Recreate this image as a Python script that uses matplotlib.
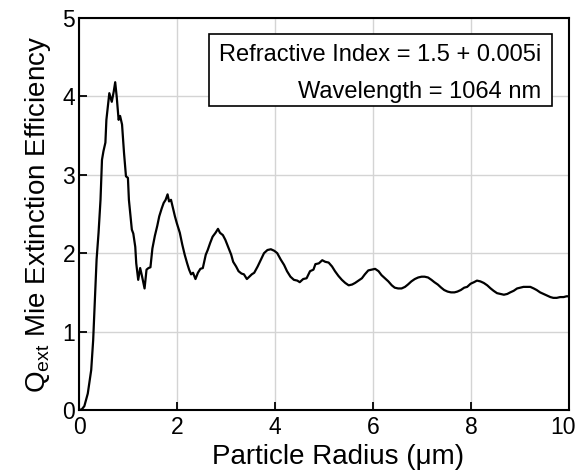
import matplotlib
matplotlib.use("Agg")
import matplotlib.pyplot as plt
import matplotlib.transforms as mtransforms
from matplotlib.patches import Rectangle

plt.rcParams['font.family'] = ['Liberation Sans', 'DejaVu Sans']
plt.rcParams['mathtext.fontset'] = 'custom'
plt.rcParams['mathtext.rm'] = 'Liberation Sans'
plt.rcParams['mathtext.it'] = 'Liberation Sans:italic'

# Mie extinction efficiency
radius_um = [0.00, 0.05, 0.10, 0.17, 0.24, 0.28, 0.32, 0.35, 0.39, 0.43,
             0.46, 0.49, 0.53, 0.55, 0.61, 0.66, 0.70, 0.73, 0.76, 0.80,
             0.83, 0.87, 0.91, 0.95, 0.99, 1.01, 1.07, 1.10, 1.14, 1.16,
             1.20, 1.24, 1.28, 1.33, 1.37, 1.41, 1.45, 1.49, 1.54, 1.59,
             1.63, 1.68, 1.72, 1.76, 1.80, 1.83, 1.87, 1.90, 1.95, 1.99,
             2.05, 2.10, 2.15, 2.20, 2.24, 2.28, 2.32, 2.37, 2.42, 2.47,
             2.52, 2.58, 2.62, 2.67, 2.72, 2.78, 2.83, 2.87, 2.93, 2.98,
             3.03, 3.10, 3.14, 3.20, 3.25, 3.31, 3.36, 3.42, 3.47, 3.52,
             3.57, 3.64, 3.71, 3.77, 3.84, 3.91, 3.98, 4.04, 4.11, 4.18,
             4.24, 4.31, 4.38, 4.45, 4.50, 4.57, 4.64, 4.71, 4.78, 4.82,
             4.89, 4.96, 5.02, 5.09, 5.16, 5.22, 5.29, 5.36, 5.43, 5.50,
             5.57, 5.63, 5.70, 5.77, 5.83, 5.90, 5.97, 6.04, 6.11, 6.17,
             6.24, 6.31, 6.38, 6.44, 6.51, 6.58, 6.65, 6.71, 6.78, 6.85,
             6.92, 6.99, 7.05, 7.12, 7.19, 7.25, 7.32, 7.39, 7.45, 7.52,
             7.59, 7.66, 7.72, 7.79, 7.86, 7.92, 7.99, 8.06, 8.12, 8.19,
             8.26, 8.33, 8.40, 8.46, 8.53, 8.60, 8.67, 8.74, 8.80, 8.87,
             8.94, 9.01, 9.07, 9.14, 9.21, 9.28, 9.34, 9.41, 9.48, 9.55,
             9.62, 9.68, 9.75, 9.82, 9.89, 9.95, 10.00]
q_ext = [0.00, 0.01, 0.05, 0.21, 0.51, 0.89, 1.49, 1.92, 2.26, 2.68,
         3.19, 3.30, 3.41, 3.70, 4.04, 3.93, 4.06, 4.18, 4.00, 3.70,
         3.75, 3.64, 3.28, 2.98, 2.96, 2.68, 2.30, 2.25, 2.08, 1.87,
         1.66, 1.81, 1.70, 1.55, 1.79, 1.81, 1.82, 2.06, 2.22, 2.35,
         2.47, 2.57, 2.64, 2.68, 2.75, 2.66, 2.68, 2.60, 2.47, 2.38,
         2.26, 2.11, 1.98, 1.87, 1.79, 1.73, 1.75, 1.67, 1.75, 1.80,
         1.81, 1.98, 2.04, 2.13, 2.21, 2.26, 2.31, 2.26, 2.23, 2.17,
         2.09, 1.98, 1.89, 1.83, 1.77, 1.74, 1.73, 1.67, 1.70, 1.73,
         1.75, 1.83, 1.92, 2.00, 2.04, 2.05, 2.03, 2.00, 1.92, 1.85,
         1.77, 1.70, 1.66, 1.65, 1.63, 1.67, 1.68, 1.77, 1.79, 1.86,
         1.87, 1.91, 1.89, 1.88, 1.83, 1.77, 1.71, 1.66, 1.62, 1.59,
         1.60, 1.62, 1.65, 1.68, 1.73, 1.78, 1.79, 1.80, 1.77, 1.72,
         1.68, 1.64, 1.59, 1.56, 1.55, 1.55, 1.57, 1.60, 1.64, 1.67,
         1.69, 1.70, 1.70, 1.69, 1.66, 1.63, 1.60, 1.56, 1.53, 1.51,
         1.50, 1.50, 1.51, 1.53, 1.56, 1.57, 1.61, 1.63, 1.65, 1.64,
         1.62, 1.59, 1.55, 1.52, 1.49, 1.48, 1.47, 1.48, 1.50, 1.52,
         1.55, 1.56, 1.57, 1.57, 1.57, 1.55, 1.53, 1.50, 1.48, 1.46,
         1.44, 1.43, 1.43, 1.44, 1.44, 1.45, 1.45]

x_ticks = [0, 2, 4, 6, 8, 10]
y_ticks = [0, 1, 2, 3, 4, 5]
info_lines = ["Refractive Index = 1.5 + 0.005i", "Wavelength = 1064 nm"]

fig = plt.figure(figsize=(5.8, 4.71), dpi=100)
ax = fig.add_axes([0.137, 0.1295, 0.844, 0.8325])

ax.plot(radius_um, q_ext, color='black', lw=1.6, solid_joinstyle='round')

ax.set_xlim(0, 10)
ax.set_ylim(0, 5)
ax.set_xticks(x_ticks)
ax.set_yticks(y_ticks)
ax.grid(True, color='#d4d4d4', lw=1.0)
ax.set_axisbelow(True)
ax.tick_params(direction='in', length=6, width=1.3, labelsize=16.5,
               top=False, right=False)
ax.tick_params(axis='x', pad=4)
ax.tick_params(axis='y', pad=3)
for s in ax.spines.values():
    s.set_linewidth(1.5)

# keep the "10" label inside the canvas
last = ax.get_xticklabels()[-1]
last.set_transform(last.get_transform() +
                   mtransforms.ScaledTranslation(-4 / 72, 0, fig.dpi_scale_trans))

ax.set_xlabel("Particle Radius (\u03bcm)", fontsize=20, labelpad=4)
ax.xaxis.label.set_x(0.528)
ax.set_ylabel(r"Q$_{\rm ext}$ Mie Extinction Efficiency", fontsize=20, labelpad=7)

# annotation box
ax.add_patch(Rectangle((0.265, 0.7755), 0.701, 0.1835, transform=ax.transAxes,
                       facecolor='white', edgecolor='black', lw=1.2, zorder=3))
ax.text(0.943, 0.889, info_lines[0], transform=ax.transAxes, ha='right',
        va='baseline', fontsize=17, zorder=4)
ax.text(0.943, 0.795, info_lines[1], transform=ax.transAxes, ha='right',
        va='baseline', fontsize=17, zorder=4)

fig.savefig("out.png", dpi=100)
